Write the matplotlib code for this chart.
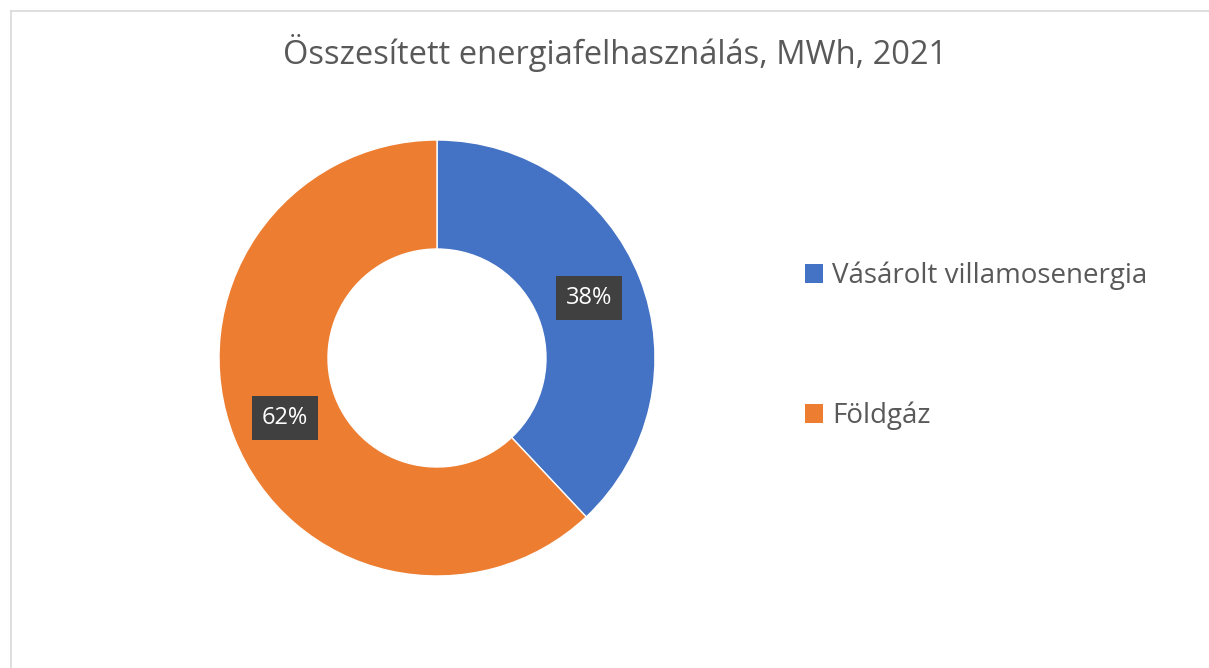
import matplotlib.pyplot as plt
from matplotlib.patches import Patch
from matplotlib.lines import Line2D

# data
labels = ['Vásárolt villamosenergia', 'Földgáz']
shares = [38, 62]
colors = ['#4472C4', '#ED7D31']
title = 'Összesített energiafelhasználás, MWh, 2021'

plt.rcParams['font.family'] = ['Open Sans', 'DejaVu Sans']

W, H = 1209, 668
fig = plt.figure(figsize=(W / 100, H / 100), dpi=100)

# light frame (top and left edges visible in the original)
fig.add_artist(Line2D([10.5 / W, 10.5 / W], [0, 1 - 11 / H], color='#d9d9d9', lw=1.2))
fig.add_artist(Line2D([10.5 / W, 1], [1 - 11 / H, 1 - 11 / H], color='#d9d9d9', lw=1.2))

cx, cy, r = 437, 358, 218
ax = fig.add_axes([(cx - r) / W, (H - cy - r) / H, 2 * r / W, 2 * r / H])
wedges, texts, autotexts = ax.pie(
    shares, colors=colors, startangle=90, counterclock=False,
    autopct='%1.0f%%', pctdistance=0.75,
    wedgeprops=dict(width=0.5, edgecolor='white', linewidth=1),
    textprops=dict(color='white', fontsize=17))
for t in autotexts:
    t.set_bbox(dict(boxstyle='square,pad=0.42', facecolor='#404040', edgecolor='none'))
ax.set_xlim(-1, 1)
ax.set_ylim(-1, 1)
ax.set_aspect('equal')
ax.axis('off')

fig.text(615 / W, 1 - 53 / H, title, ha='center', va='center', fontsize=23.5, color='#595959')

handles = [Patch(facecolor=c, edgecolor='none') for c in colors]
fig.legend(handles, labels, loc='center left', bbox_to_anchor=(780 / W, 1 - 346 / H),
           frameon=False, fontsize=20, labelcolor='#595959',
           handlelength=0.65, handleheight=0.65, handletextpad=0.32, labelspacing=4.03)

fig.savefig('out.png', dpi=100)
